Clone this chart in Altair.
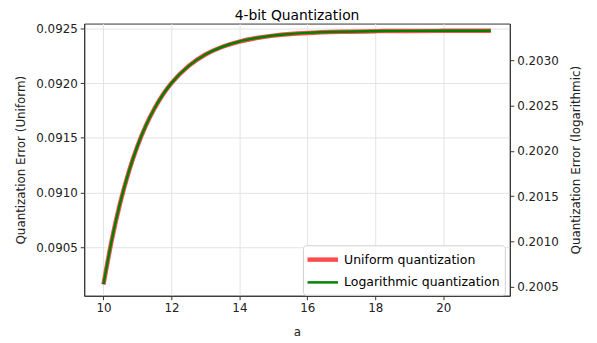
import altair as alt
import pandas as pd

a_vals = [10.0, 10.25, 10.5, 10.75, 11.0, 11.25, 11.5, 11.75, 12.0, 12.5, 13.0, 13.5,
          14.0, 14.5, 15.0, 15.5, 16.0, 17.0, 18.0, 19.0, 20.0, 21.0, 21.4]
uniform_err = [0.090160, 0.090575, 0.090916, 0.091195, 0.091425, 0.091614, 0.091768,
               0.091896, 0.092000, 0.092156, 0.092262, 0.092333, 0.092381, 0.092413,
               0.092435, 0.092450, 0.092460, 0.092471, 0.092476, 0.092478, 0.092479,
               0.092480, 0.092480]
log_err = [0.200529, 0.201029, 0.201441, 0.201777, 0.202054, 0.202282, 0.202468,
           0.202623, 0.202748, 0.202936, 0.203064, 0.203150, 0.203208, 0.203246,
           0.203273, 0.203291, 0.203303, 0.203316, 0.203322, 0.203325, 0.203326,
           0.203327, 0.203327]

x_ticks = [10, 12, 14, 16, 18, 20]
left_ticks = [0.0905, 0.0910, 0.0915, 0.0920, 0.0925]
right_ticks = [0.2005, 0.2010, 0.2015, 0.2020, 0.2025, 0.2030]
series_names = ["Uniform quantization", "Logarithmic quantization"]

df = pd.DataFrame({"a": a_vals, "uniform": uniform_err, "log": log_err})

color_scale = alt.Scale(domain=series_names, range=["#ff4d4d", "#008000"])
width_scale = alt.Scale(domain=series_names, range=[4.5, 2.5])

x_enc = alt.X("a:Q", scale=alt.Scale(domain=[9.432, 21.96], nice=False, zero=False),
              axis=alt.Axis(title="a", values=x_ticks, format="d", grid=True,
                            titlePadding=13))

legend = alt.Legend(title=None, orient="none", legendX=221, legendY=224,
                    symbolType="M-2.2,0H2.2", symbolSize=196, symbolOffset=5.5,
                    labelFontSize=12.6, padding=5, rowPadding=5, fillColor="white",
                    strokeColor="#d0d0d0", cornerRadius=3, labelOffset=12)

uni = alt.Chart(df).transform_calculate(series="'Uniform quantization'").mark_line(
    interpolate="monotone").encode(
    x=x_enc,
    y=alt.Y("uniform:Q", scale=alt.Scale(domain=[0.090055, 0.0925455], nice=False, zero=False),
            axis=alt.Axis(title="Quantization Error (Uniform)", values=left_ticks,
                          format=".4f", orient="left", grid=True, titlePadding=8)),
    color=alt.Color("series:N", scale=color_scale, legend=legend),
    strokeWidth=alt.StrokeWidth("series:N", scale=width_scale, legend=legend),
)

logl = alt.Chart(df).transform_calculate(series="'Logarithmic quantization'").mark_line(
    interpolate="monotone").encode(
    x=x_enc,
    y=alt.Y("log:Q", scale=alt.Scale(domain=[0.200401, 0.2034057], nice=False, zero=False),
            axis=alt.Axis(title="Quantization Error (logarithmic)", values=right_ticks,
                          format=".4f", orient="right", grid=False, titleAngle=270,
                          titleBaseline="top", titlePadding=12)),
    color=alt.Color("series:N", scale=color_scale, legend=legend),
    strokeWidth=alt.StrokeWidth("series:N", scale=width_scale, legend=legend),
)

chart = alt.layer(uni, logl).resolve_scale(y="independent").properties(
    width=430, height=275,
    title=alt.TitleParams("4-bit Quantization", fontSize=14, fontWeight="normal",
                          offset=-1, anchor="middle", color="black"),
    autosize=alt.AutoSizeParams(type="none"),
    padding={"left": 77, "top": 14, "right": 80, "bottom": 46},
).configure(font="DejaVu Sans").configure_axis(
    labelFontSize=12, titleFontSize=12, titleFontWeight="normal",
    labelColor="#222", titleColor="#222", tickColor="#333", domainColor="#333",
    tickSize=4, labelPadding=3, gridColor="#e3e3e3", labelFlush=False,
).configure_view(stroke="#333", strokeWidth=1)

chart.save("out.html", embed_options={"renderer": "svg", "actions": False})
